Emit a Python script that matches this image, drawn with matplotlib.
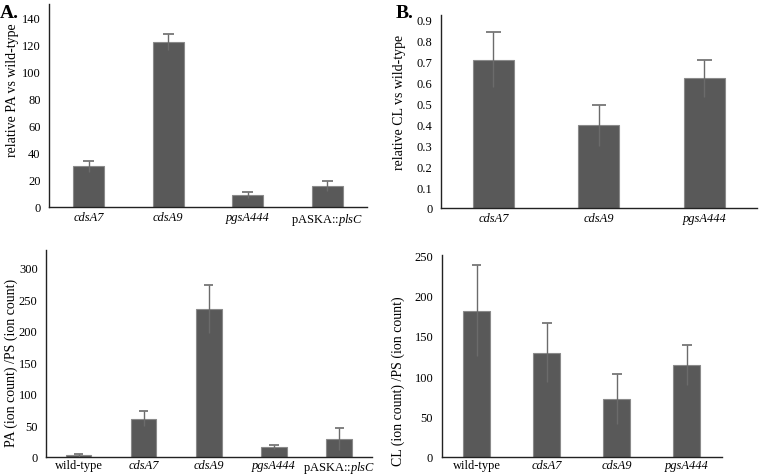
import matplotlib
matplotlib.use("Agg")
import matplotlib.pyplot as plt
import numpy as np

plt.rcParams["font.family"] = ["Liberation Serif", "DejaVu Serif"]
plt.rcParams["mathtext.fontset"] = "custom"
plt.rcParams["mathtext.rm"] = "Liberation Serif"
plt.rcParams["mathtext.it"] = "Liberation Serif:italic"

# panel A, top: relative PA vs wild-type
pa_rel_labels = ["cdsA7", "cdsA9", "pgsA444", "pASKA::plsC"]
pa_rel_values = [30, 122, 9, 15.5]
pa_rel_errors = [4, 6, 2, 4]

# panel B, top: relative CL vs wild-type
cl_rel_labels = ["cdsA7", "cdsA9", "pgsA444"]
cl_rel_values = [0.71, 0.395, 0.62]
cl_rel_errors = [0.13, 0.10, 0.09]

# panel A, bottom: PA/PS ion counts
pa_ps_labels = ["wild-type", "cdsA7", "cdsA9", "pgsA444", "pASKA::plsC"]
pa_ps_values = [2, 60, 235, 16, 28]
pa_ps_errors = [2, 12, 38, 3, 18]

# panel B, bottom: CL/PS ion counts
cl_ps_labels = ["wild-type", "cdsA7", "cdsA9", "pgsA444"]
cl_ps_values = [181, 129, 71, 114]
cl_ps_errors = [56, 37, 31, 25]

BAR = "#595959"
EDGE = "#8a8a8a"
ERR = "#6b6b6b"


def draw_bars(ax, labels, values, errors, ylim, yticks, fmt, ylabel, label_xy, pad):
    x = np.arange(len(labels))
    values = np.array(values)
    errors = np.array(errors)
    ax.bar(x, values, width=0.39, color=BAR, edgecolor=EDGE, linewidth=0.8, zorder=2)
    ax.vlines(x, values - errors, values + errors, color=ERR, linewidth=1.0, zorder=3)
    ax.hlines(values + errors, x - 0.07, x + 0.07, color=ERR, linewidth=1.2, zorder=3)
    ax.set_xlim(-0.5, len(labels) - 0.5)
    ax.set_ylim(*ylim)
    ax.set_yticks(yticks)
    ax.set_yticklabels([fmt.format(t) for t in yticks], fontsize=9)
    ax.set_xticks(x)
    # strain names italic, plasmid prefix upright
    shown = [r"pASKA::$\mathit{plsC}$" if l.startswith("pASKA::") else l for l in labels]
    ticks = ax.set_xticklabels(shown, fontsize=9)
    for t, l in zip(ticks, labels):
        if l != "wild-type" and not l.startswith("pASKA::"):
            t.set_fontstyle("italic")
    ax.tick_params(axis="y", length=0, pad=6)
    ax.tick_params(axis="x", length=0, pad=pad)
    for side in ["top", "right"]:
        ax.spines[side].set_visible(False)
    for side in ["left", "bottom"]:
        ax.spines[side].set_color("#222222")
        ax.spines[side].set_linewidth(1.0)
    ax.set_ylabel(ylabel, fontsize=10)
    ax.yaxis.set_label_coords(*label_xy)


fig = plt.figure(figsize=(7.6, 4.77), dpi=100)

ax1 = fig.add_axes([0.0645, 0.564, 0.4185, 0.4255])
draw_bars(ax1, pa_rel_labels, pa_rel_values, pa_rel_errors, (0, 150),
          list(range(0, 141, 20)), "{:d}", "relative PA vs wild-type",
          (-0.094, 0.58), 3)

ax2 = fig.add_axes([0.580, 0.562, 0.416, 0.405])
draw_bars(ax2, cl_rel_labels, cl_rel_values, cl_rel_errors, (0, 0.925),
          [i / 10 for i in range(10)], "{:g}", "relative CL vs wild-type",
          (-0.111, 0.55), 3)

ax3 = fig.add_axes([0.0605, 0.0405, 0.4285, 0.434])
draw_bars(ax3, pa_ps_labels, pa_ps_values, pa_ps_errors, (0, 329),
          list(range(0, 301, 50)), "{:d}", "PA (ion count) /PS (ion count)",
          (-0.086, 0.46), 1.5)

ax4 = fig.add_axes([0.581, 0.0405, 0.3686, 0.4228])
draw_bars(ax4, cl_ps_labels, cl_ps_values, cl_ps_errors, (0, 250),
          list(range(0, 251, 50)), "{:d}", "CL (ion count) /PS (ion count)",
          (-0.131, 0.38), 1.5)

fig.text(0.0, 0.99, "A.", fontsize=14, fontweight="bold", va="top", ha="left")
fig.text(0.52, 0.99, "B.", fontsize=14, fontweight="bold", va="top", ha="left")

fig.savefig("out.png", dpi=100)
